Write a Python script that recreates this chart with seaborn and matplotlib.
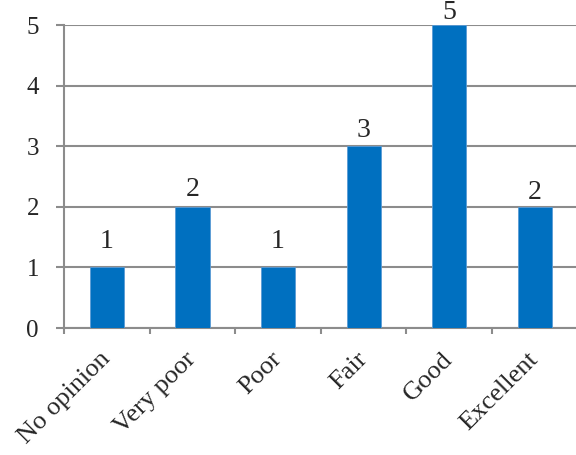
import matplotlib
matplotlib.use("Agg")
import matplotlib.pyplot as plt
import seaborn as sns
import pandas as pd
import numpy as np

categories = ["No opinion", "Very poor", "Poor", "Fair", "Good", "Excellent"]
counts = [1, 2, 1, 3, 5, 2]
y_ticks = [0, 1, 2, 3, 4, 5]

# vertical gap (points) between each bar top and its value label
label_gaps = [10, 3.5, 10, 2, 0, 1.5]

sns.set_style("white")
plt.rcParams["font.family"] = ["Liberation Serif", "DejaVu Serif"]

df = pd.DataFrame({"rating": categories, "count": counts})

fig = plt.figure(figsize=(5.76, 4.55), dpi=100)
ax = fig.add_axes([0.111, 0.279, 0.892, 0.666])

grid_color = "#8c8c8c"
sns.barplot(data=df, x="rating", y="count", color="#0070C0", width=0.4,
            saturation=1, edgecolor="#5b9bd5", linewidth=0.6, ax=ax, zorder=3)

ax.set_ylim(0, 5)
ax.set_xlim(-0.5, len(categories) - 0.5)
ax.set_yticks(y_ticks)
ax.yaxis.grid(True, color=grid_color, linewidth=1.5, zorder=0)
ax.set_axisbelow(True)

for s in ["top", "right"]:
    ax.spines[s].set_visible(False)
for s in ["left", "bottom"]:
    ax.spines[s].set_color(grid_color)
    ax.spines[s].set_linewidth(1.5)

ax.set_xlabel("")
ax.set_ylabel("")

# category boundaries get the tick marks, labels sit at the centers
ax.set_xticks(np.arange(len(categories)))
ax.set_xticklabels(categories, rotation=45, ha="right", va="center",
                   rotation_mode="anchor", fontsize=19)
ax.set_xticks(np.arange(len(categories) + 1) - 0.5, minor=True)
ax.tick_params(axis="x", which="major", length=0, pad=20)
ax.tick_params(axis="x", which="minor", length=4, width=1.5, color=grid_color,
               direction="out", bottom=True)
ax.tick_params(axis="y", which="major", length=6, width=1.5, color=grid_color,
               direction="out", left=True, labelsize=18, pad=12)

for i, (v, gap) in enumerate(zip(counts, label_gaps)):
    ax.annotate(str(v), (i, v), xytext=(0, gap), textcoords="offset points",
                ha="center", va="bottom", fontsize=20, annotation_clip=False)

fig.savefig("out.png", dpi=100)
